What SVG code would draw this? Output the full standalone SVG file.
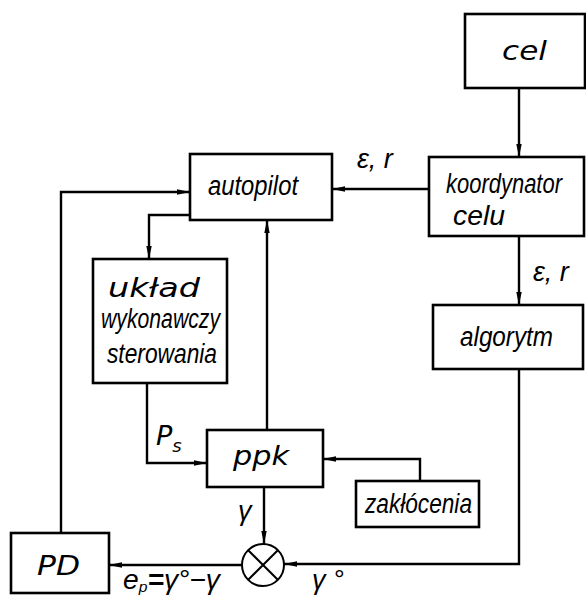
<svg xmlns="http://www.w3.org/2000/svg" width="586" height="596" viewBox="0 0 586 596">
<style>
.box{fill:#fff;stroke:#000;stroke-width:2.6}
.ln{fill:none;stroke:#000;stroke-width:2.4}
.t{font-family:"Liberation Sans","DejaVu Sans",sans-serif;font-style:italic;font-size:27px;fill:#000}
.wd{font-family:"DejaVu Sans","Liberation Sans",sans-serif;font-weight:200;font-style:oblique;font-size:27px;fill:#000}
</style>
<defs>
<marker id="ar" markerUnits="userSpaceOnUse" markerWidth="14" markerHeight="8" refX="13" refY="3.5" orient="auto">
<path d="M0,0.8 L13,3.5 L0,6.2 z" fill="#000"/>
</marker>
</defs>
<rect width="586" height="596" fill="#fff"/>
<g id="connectors" class="ln">
<path d="M519,88 V157" marker-end="url(#ar)"/>
<path d="M429,189 H332" marker-end="url(#ar)"/>
<path d="M519,236 V305" marker-end="url(#ar)"/>
<path d="M61,533 V192 H190" marker-end="url(#ar)"/>
<path d="M190,215 H149 V259" marker-end="url(#ar)"/>
<path d="M147,383 V463 H207" marker-end="url(#ar)"/>
<path d="M267,430 V220" marker-end="url(#ar)"/>
<path d="M420,481 V459 H323" marker-end="url(#ar)"/>
<path d="M264,487 V544" marker-end="url(#ar)"/>
<path d="M519,369 V564 H284" marker-end="url(#ar)"/>
<path d="M242,565 H109" marker-end="url(#ar)"/>
</g>
<g id="cel">
<rect class="box" x="465" y="14" width="120" height="74"/>
<text class="wd" x="502" y="60" textLength="45" lengthAdjust="spacingAndGlyphs">cel</text>
</g>
<g id="koordynator">
<rect class="box" x="429" y="157" width="155" height="79"/>
<text class="t" x="446" y="193" textLength="116" lengthAdjust="spacingAndGlyphs">koordynator</text>
<text class="t" x="453" y="225" textLength="52" lengthAdjust="spacingAndGlyphs">celu</text>
</g>
<g id="autopilot">
<rect class="box" x="190" y="154" width="142" height="66"/>
<text class="t" x="208" y="195" textLength="90" lengthAdjust="spacingAndGlyphs">autopilot</text>
</g>
<g id="uklad">
<rect class="box" x="93" y="259" width="134" height="124"/>
<text class="wd" x="108" y="297" textLength="92" lengthAdjust="spacingAndGlyphs">układ</text>
<text class="t" x="101" y="328" textLength="119" lengthAdjust="spacingAndGlyphs">wykonawczy</text>
<text class="t" x="107" y="363" textLength="110" lengthAdjust="spacingAndGlyphs">sterowania</text>
</g>
<g id="algorytm">
<rect class="box" x="433" y="305" width="150" height="64"/>
<text class="t" x="460" y="346" textLength="93" lengthAdjust="spacingAndGlyphs">algorytm</text>
</g>
<g id="ppk">
<rect class="box" x="207" y="430" width="116" height="57"/>
<text class="wd" x="233" y="465" textLength="56" lengthAdjust="spacingAndGlyphs">ppk</text>
</g>
<g id="zaklocenia">
<rect class="box" x="356" y="481" width="123" height="46"/>
<text class="t" x="365" y="513" textLength="107" lengthAdjust="spacingAndGlyphs">zakłócenia</text>
</g>
<g id="PD">
<rect class="box" x="11" y="533" width="98" height="60"/>
<text class="wd" x="37" y="575" textLength="43" lengthAdjust="spacingAndGlyphs">PD</text>
</g>
<g id="sum">
<circle cx="263" cy="565" r="21" fill="#fff" stroke="#000" stroke-width="2"/>
<path d="M248.2,550.2 L277.8,579.8 M277.8,550.2 L248.2,579.8" stroke="#000" stroke-width="2" fill="none"/>
</g>
<g id="labels">
<text class="t" x="357" y="168" font-size="26">ε, r</text>
<text class="t" x="533" y="281" font-size="26">ε, r</text>
<text class="wd" x="156" y="445" font-size="28">P<tspan font-size="18" dy="7">s</tspan></text>
<text class="t" x="238" y="520" font-size="28">γ</text>
<text class="t" x="123" y="589" font-size="26" textLength="97" lengthAdjust="spacingAndGlyphs">e<tspan font-size="15" dy="3">p</tspan><tspan dy="-3" font-weight="bold">=</tspan>γ°−γ</text>
<text class="t" x="312" y="589" font-size="26">γ °</text>
</g>
</svg>
